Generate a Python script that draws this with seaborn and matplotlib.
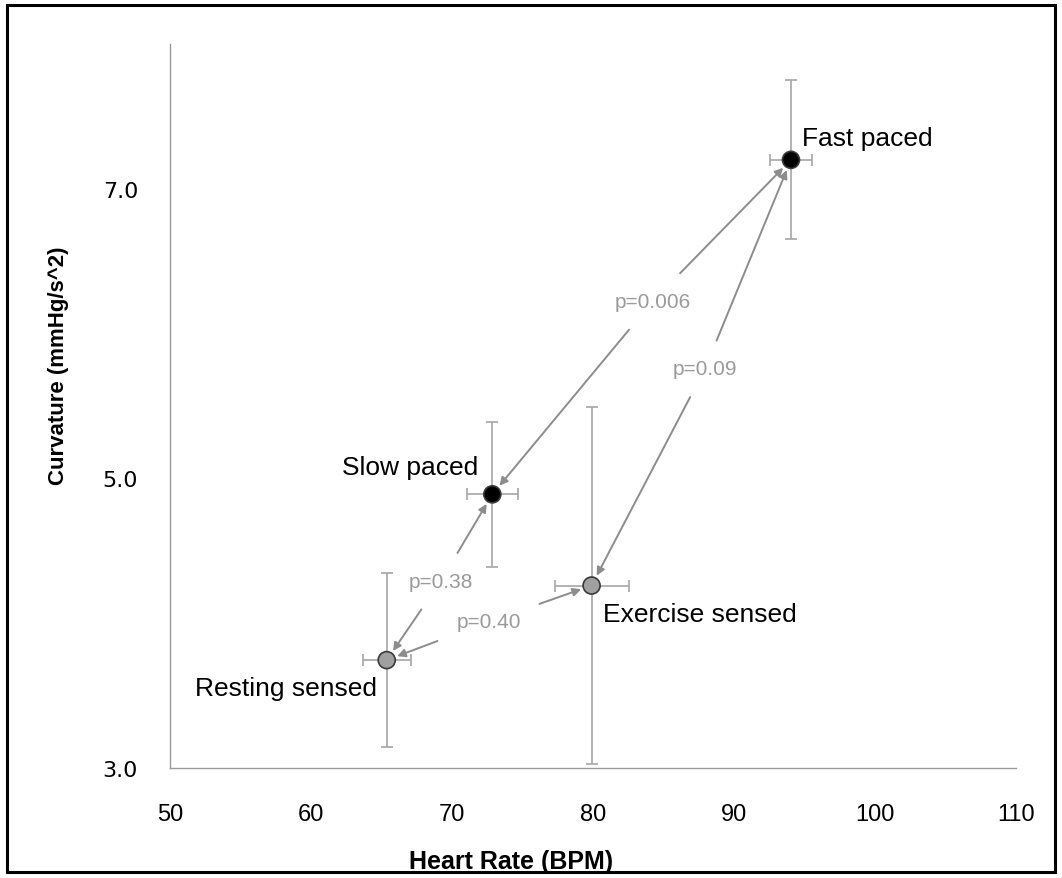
import pandas as pd
import matplotlib
matplotlib.use("Agg")
import matplotlib.pyplot as plt
from matplotlib.patches import Rectangle
import seaborn as sns

# values
conditions = ["Fast paced", "Slow paced", "Exercise sensed", "Resting sensed"]
mode = ["paced", "paced", "sensed", "sensed"]
heart_rate = [94.04, 72.86, 79.9, 65.37]
heart_rate_err = [1.51, 1.82, 2.62, 1.71]
curvature = [7.20, 4.89, 4.26, 3.745]
curvature_err = [0.55, 0.50, 1.23, 0.60]

# pairwise comparisons: (from, to, label)
comparisons = [
    ("Fast paced", "Slow paced", "p=0.006"),
    ("Fast paced", "Exercise sensed", "p=0.09"),
    ("Slow paced", "Resting sensed", "p=0.38"),
    ("Resting sensed", "Exercise sensed", "p=0.40"),
]
p_label_pos = [(84.22, 6.222), (87.94, 5.757), (69.2, 4.29), (72.59, 4.01)]

# point label anchors (x, y, ha)
point_label_pos = {
    "Fast paced": (94.79, 7.30, "left"),
    "Slow paced": (71.84, 5.028, "right"),
    "Exercise sensed": (80.69, 4.014, "left"),
    "Resting sensed": (64.66, 3.502, "right"),
}

x_ticks = [50, 60, 70, 80, 90, 100, 110]
y_ticks = [3.0, 5.0, 7.0]

df = pd.DataFrame({
    "condition": conditions,
    "mode": mode,
    "hr": heart_rate,
    "hr_err": heart_rate_err,
    "curv": curvature,
    "curv_err": curvature_err,
})

sns.set_style("white")
plt.rcParams["font.family"] = ["Liberation Sans", "DejaVu Sans"]
plt.rcParams["text.color"] = "black"
plt.rcParams["axes.labelcolor"] = "black"
plt.rcParams["xtick.color"] = "black"
plt.rcParams["ytick.color"] = "black"

fig = plt.figure(figsize=(10.62, 8.79), dpi=100)
ax = fig.add_axes([170 / 1062, 1 - 769 / 879, 846 / 1062, 724 / 879])

grey = "#a6a6a6"
ax.errorbar(df["hr"], df["curv"], xerr=df["hr_err"], yerr=df["curv_err"],
            fmt="none", ecolor=grey, elinewidth=1.2, capsize=4, capthick=1.2, zorder=2)

sns.scatterplot(data=df, x="hr", y="curv", hue="mode",
                palette={"paced": "black", "sensed": "#a0a0a0"},
                s=150, edgecolor="#3a3a3a", linewidth=1.2,
                legend=False, zorder=4, ax=ax)

lookup = df.set_index("condition")
arrow_kw = dict(arrowstyle="-|>", color="#8c8c8c", lw=1.4, mutation_scale=12,
                shrinkA=0, shrinkB=8)
for (a, b, lab), pos in zip(comparisons, p_label_pos):
    for i, end in enumerate((a, b)):
        ax.annotate(lab, xy=(lookup.loc[end, "hr"], lookup.loc[end, "curv"]),
                    xytext=pos, ha="center", va="center", fontsize=15,
                    color="#9a9a9a" if i == 0 else "none",
                    bbox=dict(boxstyle="square,pad=0.9", fc="none", ec="none"),
                    arrowprops=arrow_kw, zorder=3)

for name, (x, y, ha) in point_label_pos.items():
    ax.text(x, y, name, ha=ha, va="baseline", fontsize=19, color="black")

ax.set_xlim(50, 110)
ax.set_ylim(3.0, 8.0)
ax.set_xticks(x_ticks)
ax.set_xticklabels([str(t) for t in x_ticks], fontsize=17)
ax.set_yticks(y_ticks)
ax.set_yticklabels([f"{t:.1f}" for t in y_ticks], fontsize=16, family="DejaVu Sans")

for side in ("top", "right"):
    ax.spines[side].set_visible(False)
for side in ("left", "bottom"):
    ax.spines[side].set_color("#9a9a9a")
    ax.spines[side].set_linewidth(1.0)
ax.tick_params(axis="both", direction="out", color="#9a9a9a", width=1.0)
ax.tick_params(axis="x", length=7, pad=18)
ax.tick_params(axis="y", length=7, pad=16)

ax.set_xlabel("Heart Rate (BPM)", fontsize=18, fontweight="bold")
ax.set_ylabel("Curvature (mmHg/s^2)", fontsize=16, fontweight="bold")
ax.xaxis.set_label_coords(0.403, -0.128)
ax.xaxis.label.set_va("center")
ax.yaxis.set_label_coords(-0.132, 0.557)
ax.yaxis.label.set_va("center")

fig.patches.append(Rectangle((7 / 1062, 6 / 879), 1 - 14 / 1062, 1 - 12 / 879,
                             transform=fig.transFigure, fill=False,
                             edgecolor="black", linewidth=2.2))

fig.savefig("out.png", dpi=100)
